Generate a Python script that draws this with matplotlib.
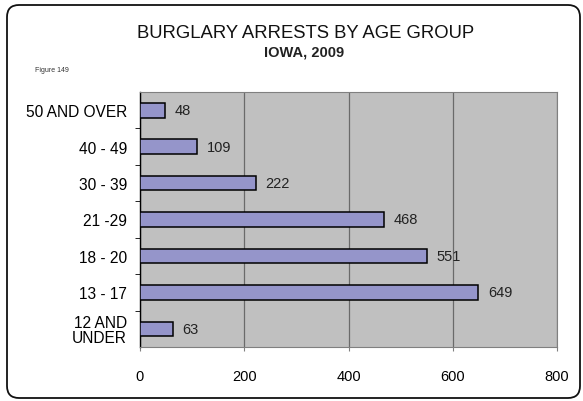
import matplotlib
matplotlib.use("Agg")
import matplotlib.pyplot as plt
from matplotlib.patches import FancyBboxPatch

categories = ["12 AND\nUNDER", "13 - 17", "18 - 20", "21 -29", "30 - 39", "40 - 49", "50 AND OVER"]
values = [63, 649, 551, 468, 222, 109, 48]
xticks = [0, 200, 400, 600, 800]

plt.rcParams['font.family'] = ['Liberation Sans', 'DejaVu Sans']

W, H = 583, 402
fig = plt.figure(figsize=(W / 100, H / 100), dpi=100)
fig.patch.set_facecolor('white')

# background axes in pixel coordinates for the rounded frame
bg = fig.add_axes([0, 0, 1, 1], zorder=-5)
bg.set_xlim(0, W)
bg.set_ylim(H, 0)
bg.axis('off')
frame = FancyBboxPatch((7, 6), 573, 393, boxstyle="round,pad=0,rounding_size=12",
                       facecolor='none', edgecolor='#111111', linewidth=1.3)
bg.add_patch(frame)

ax = fig.add_axes([140 / W, 1 - 348 / H, 417 / W, 255 / H])
ax.set_facecolor('#C0C0C0')
y = list(range(len(categories)))
ax.barh(y, values, height=0.4, color='#9595CA', edgecolor='black', linewidth=1.1, zorder=3)
for yi, v in zip(y, values):
    ax.annotate(str(v), (v, yi), xytext=(7, 0), textcoords='offset points',
                va='center', ha='left', fontsize=10.5, color='#222222', zorder=4)

ax.set_xlim(0, 800)
ax.set_ylim(-0.5, len(categories) - 0.5)
ax.set_xticks(xticks)
ax.set_xticklabels([str(t) for t in xticks], fontsize=10.5)
ax.set_yticks(y)
ax.set_yticklabels(categories, fontsize=11.2, linespacing=1.0)
ax.tick_params(axis='y', length=0, pad=9.5)
ax.set_yticks([i + 0.5 for i in range(len(categories) - 1)], minor=True)
ax.tick_params(axis='y', which='minor', length=3.5, color='black')
ax.tick_params(axis='x', length=3, color='#808080', pad=13)
ax.grid(axis='x', color='#6a6a6a', linewidth=0.9, zorder=1)
ax.set_axisbelow(True)
for s in ['top', 'right', 'bottom']:
    ax.spines[s].set_color('#808080')
ax.spines['left'].set_color('black')
ax.spines['left'].set_linewidth(1.0)

fig.text(306 / W, 1 - 33.5 / H, "BURGLARY ARRESTS BY AGE GROUP", ha='center', va='center',
         fontsize=13.3, color='#111111')
fig.text(304 / W, 1 - 52.5 / H, "IOWA, 2009", ha='center', va='center', fontsize=10.5,
         fontweight='bold', color='#222222')
fig.text(35 / W, 1 - 70 / H, "Figure 149", ha='left', va='center', fontsize=5, color='#333333')

fig.savefig("out.png", dpi=100)
